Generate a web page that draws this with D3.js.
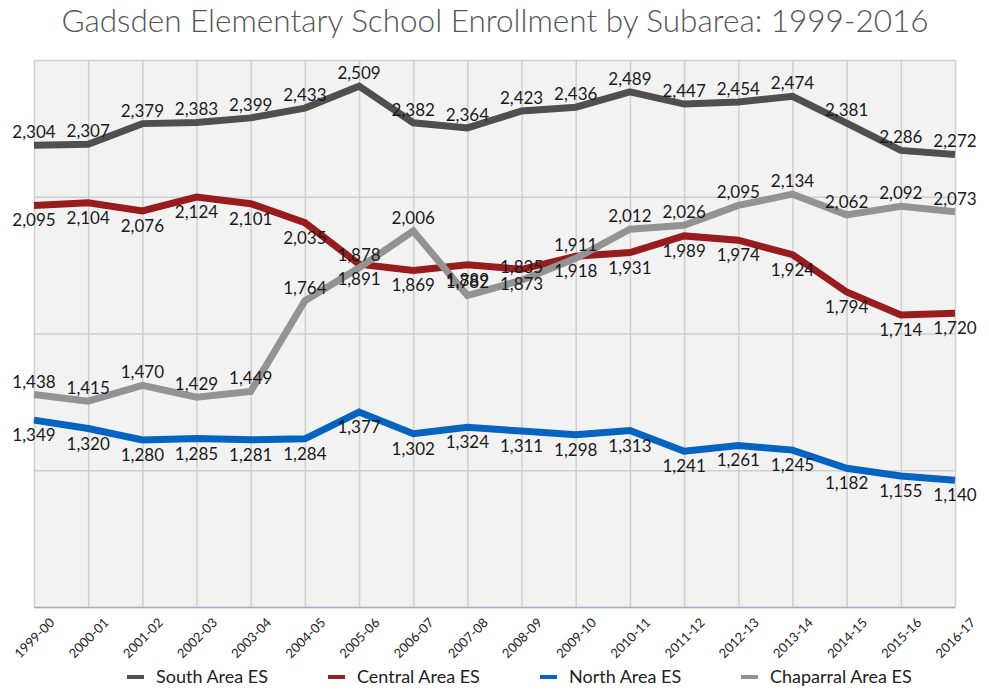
<!DOCTYPE html>
<html>
<head>
<meta charset="utf-8">
<script src="https://cdn.jsdelivr.net/npm/d3@7"></script>
<style>
  body { margin: 0; background: #fff; }
  text { font-family: Lato, "Noto Sans", sans-serif; }
</style>
</head>
<body>
<div class="chart"></div>
<script>
// Gadsden ES enrollment by subarea

var years = ["1999-00", "2000-01", "2001-02", "2002-03", "2003-04", "2004-05", "2005-06", "2006-07", "2007-08",
    "2008-09", "2009-10", "2010-11", "2011-12", "2012-13", "2013-14", "2014-15", "2015-16", "2016-17"];

var south = [2304, 2307, 2379, 2383, 2399, 2433, 2509, 2382, 2364, 2423, 2436, 2489, 2447, 2454, 2474, 2381, 2286, 2272];
var central = [2095, 2104, 2076, 2124, 2101, 2035, 1891, 1869, 1889, 1873, 1918, 1931, 1989, 1974, 1924, 1794, 1714, 1720];
var north = [1349, 1320, 1280, 1285, 1281, 1284, 1377, 1302, 1324, 1311, 1298, 1313, 1241, 1261, 1245, 1182, 1155, 1140];
var chaparral = [1438, 1415, 1470, 1429, 1449, 1764, 1878, 2006, 1782, 1835, 1911, 2012, 2026, 2095, 2134, 2062, 2092, 2073];

var seriesNames = ["South Area ES", "Central Area ES", "North Area ES", "Chaparral Area ES"];
var yTicks = [700, 1175, 1650, 2125, 2600];

var svgWidth = 989;
var svgHeight = 691;
var margin = { top: 60, right: 34, bottom: 84, left: 34 };
var chartWidth = svgWidth - margin.left - margin.right;
var chartHeight = svgHeight - margin.top - margin.bottom;

var series = [
    { name: seriesNames[0], values: south, color: "#4f4f4f", labelPos: "above" },
    { name: seriesNames[1], values: central, color: "#981b1e", labelPos: "below" },
    { name: seriesNames[2], values: north, color: "#0563c1", labelPos: "below" },
    { name: seriesNames[3], values: chaparral, color: "#939393", labelPos: "above" }
];

var svg = d3.select(".chart")
    .append("svg")
    .attr("width", svgWidth)
    .attr("height", svgHeight);

svg.append("text")
    .attr("x", 495)
    .attr("y", 32)
    .attr("text-anchor", "middle")
    .style("font-size", "31.5px")
    .style("font-weight", 300)
    .style("fill", "#555")
    .text("Gadsden Elementary School Enrollment by Subarea: 1999-2016");

var chart = svg.append("g")
    .attr("transform", "translate(" + margin.left + "," + margin.top + ")");

var x = d3.scalePoint().domain(years).range([0, chartWidth]);
var y = d3.scaleLinear().domain([700, 2600]).range([chartHeight, 0]);

chart.append("rect")
    .attr("width", chartWidth)
    .attr("height", chartHeight)
    .attr("fill", "#f2f2f2");

// grid
chart.append("g")
    .call(d3.axisLeft(y).tickValues(yTicks).tickSize(-chartWidth).tickFormat(""))
    .call(function(g) {
        g.select(".domain").remove();
        g.selectAll("line").attr("stroke", "#cfcfcf").attr("stroke-width", 1.5);
    });

chart.append("g")
    .attr("transform", "translate(0," + chartHeight + ")")
    .call(d3.axisBottom(x).tickSize(-chartHeight).tickFormat(""))
    .call(function(g) {
        g.select(".domain").remove();
        g.selectAll("line").attr("stroke", "#cfcfcf").attr("stroke-width", 1.5);
    });

// x axis line + labels
var xAxis = chart.append("g")
    .attr("transform", "translate(0," + chartHeight + ")")
    .call(d3.axisBottom(x).tickSize(0).tickPadding(0));

xAxis.select(".domain").attr("stroke", "#9fb1c4").attr("stroke-width", 1.5);

xAxis.selectAll("text")
    .attr("y", 0)
    .attr("dy", "0.35em")
    .attr("text-anchor", "middle")
    .attr("transform", "translate(0,31) rotate(-45)")
    .style("font-family", "Lato, 'Noto Sans', sans-serif")
    .style("font-size", "13px")
    .style("fill", "#222");

var line = d3.line()
    .x(function(d, i) { return x(years[i]); })
    .y(function(d) { return y(d); });

series.forEach(function(s) {
    chart.append("path")
        .datum(s.values)
        .attr("fill", "none")
        .attr("stroke", s.color)
        .attr("stroke-width", 7)
        .attr("d", line);
});

var fmt = d3.format(",");

series.forEach(function(s) {
    chart.append("g")
        .selectAll("text")
        .data(s.values)
        .enter()
        .append("text")
        .attr("x", function(d, i) { return x(years[i]); })
        .attr("y", function(d) {
            return s.labelPos == "above" ? y(d) - 7 : y(d) + 21;
        })
        .attr("text-anchor", "middle")
        .style("font-size", "17px")
        .style("fill", "#1a1a1a")
        .text(function(d) { return fmt(d); });
});

// legend
var legendX = [127, 328, 540, 741];
var legend = svg.append("g");

series.forEach(function(s, i) {
    legend.append("line")
        .attr("x1", legendX[i])
        .attr("x2", legendX[i] + 17)
        .attr("y1", 677)
        .attr("y2", 677)
        .attr("stroke", s.color)
        .attr("stroke-width", 4);

    legend.append("text")
        .attr("x", legendX[i] + 29)
        .attr("y", 683)
        .style("font-size", "18px")
        .style("fill", "#222")
        .text(s.name);
});
</script>
</body>
</html>
